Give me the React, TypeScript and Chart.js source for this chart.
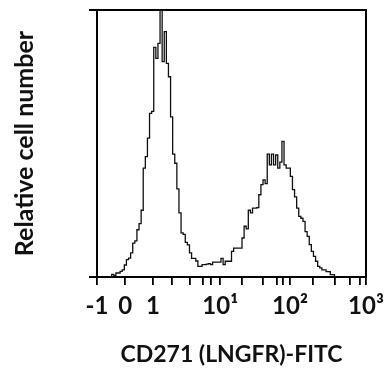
import React, { useEffect, useRef } from 'react';
import { Chart, registerables } from 'chart.js';

Chart.register(...registerables);

// Histogram: fluorescence channel bins (2 channels per bin), first bin index 6
const binWidth = 2;
const firstBin = 6;
const binCounts = [
  0, 1, 0.5, 1.5, 1.5, 2.1, 2.7, 4.5, 6.5, 7.1,
  9, 12.7, 13.5, 17.7, 20, 25, 40.8, 45.1, 52, 61.3,
  62, 86, 81.9, 87.5, 100, 80.7, 91.9, 80, 75, 60,
  46, 42.6, 33, 24, 16.5, 16, 13, 12, 9, 7,
  7, 6, 4, 4, 4.6, 4.6, 4.8, 5, 4.6, 5.6,
  5.6, 5.6, 5.6, 7, 4.6, 5.9, 5.9, 5.9, 9.6, 10.8,
  10.8, 10.8, 10.8, 14.6, 19, 18, 25, 24, 25.8, 25.8,
  26, 30.8, 34.6, 36.4, 35, 46, 42, 46, 42, 45.7,
  40.8, 43, 50.8, 42, 40.8, 40.8, 37.7, 32.7, 30, 25.8,
  22.7, 22, 20.8, 17, 15.2, 12.1, 9.6, 7.7, 5.9, 4,
  3.4, 2.7, 2.7, 2, 2, 0.9, 0.9, 0,
];

const channelMax = 256;
const countMax = 100;

const majorTickChannels = [0, 26.9, 53.2, 117.3, 183.7, 256];
const majorTickLabels = ['-1', '0', '1', '10\u00B9', '10\u00B2', '10\u00B3'];
const minorTickChannels = [71.3, 88.7, 100.8, 108.4, 137.8, 157.8, 171.1, 176.8, 205.9, 226.5, 240.8, 250.3];

const xTitle = 'CD271 (LNGFR)-FITC';
const yTitle = 'Relative cell number';

export default function App() {
  const canvasRef = useRef<HTMLCanvasElement | null>(null);

  useEffect(() => {
    const canvas = canvasRef.current;
    if (!canvas) return;
    Chart.defaults.font.family = 'Lato';

    const points = binCounts.map((c, i) => ({ x: (firstBin + i) * binWidth, y: c }));
    points.push({ x: (firstBin + binCounts.length) * binWidth, y: 0 });

    const allTicks = [...majorTickChannels, ...minorTickChannels].sort((a, b) => a - b);
    const labelFor = (v: number) => {
      const idx = majorTickChannels.findIndex((m) => Math.abs(m - v) < 0.01);
      return idx >= 0 ? majorTickLabels[idx] : '';
    };

    const chart = new Chart(canvas, {
      type: 'line',
      data: {
        datasets: [
          {
            data: points,
            stepped: 'before',
            borderColor: '#111',
            borderWidth: 1.3,
            pointRadius: 0,
            fill: false,
            tension: 0,
          },
        ],
      },
      options: {
        animation: false,
        responsive: false,
        parsing: false as any,
        layout: { padding: { top: 10, right: 22, bottom: 0, left: 0 } },
        plugins: { legend: { display: false }, tooltip: { enabled: false } },
        scales: {
          x: {
            type: 'linear',
            position: 'bottom',
            min: 0,
            max: channelMax,
            afterBuildTicks: (s: any) => {
              s.ticks = allTicks.map((v) => ({ value: v }));
            },
            afterFit: (s: any) => {
              s.height = 96;
              s.paddingLeft = 0;
              s.paddingRight = 0;
            },
            ticks: {
              autoSkip: false,
              maxRotation: 0,
              minRotation: 0,
              padding: 7,
              color: '#111',
              font: { size: 24, weight: 'bold' },
              callback: (v: any) => labelFor(Number(v)),
            },
            grid: {
              display: true,
              drawOnChartArea: false,
              drawTicks: true,
              tickLength: 8,
              color: '#000',
              lineWidth: 1.8,
            },
            border: { display: true, color: '#000', width: 2 },
            title: {
              display: true,
              text: xTitle,
              color: '#111',
              font: { size: 23, weight: 'bold' },
              padding: { top: 0, bottom: 5 },
            },
          },
          y: {
            type: 'linear',
            position: 'left',
            min: 0,
            max: countMax,
            afterBuildTicks: (s: any) => {
              s.ticks = [{ value: 0 }, { value: countMax }];
            },
            afterFit: (s: any) => {
              s.width = 97;
              s.paddingTop = 0;
              s.paddingBottom = 0;
            },
            ticks: { display: false },
            grid: {
              display: true,
              drawOnChartArea: false,
              drawTicks: true,
              tickLength: 8,
              color: '#000',
              lineWidth: 2,
            },
            border: { display: true, color: '#000', width: 2 },
            title: {
              display: true,
              text: yTitle,
              color: '#111',
              font: { size: 25, weight: 'bold' },
              padding: { top: 10, bottom: 0 },
            },
          },
          xTop: {
            type: 'linear',
            position: 'top',
            min: 0,
            max: channelMax,
            ticks: { display: false },
            afterFit: (s: any) => {
              s.height = 0;
              s.paddingLeft = 0;
              s.paddingRight = 0;
            },
            grid: { display: true, drawOnChartArea: false, drawTicks: false },
            border: { display: true, color: '#000', width: 2 },
          },
          yRight: {
            type: 'linear',
            position: 'right',
            min: 0,
            max: countMax,
            ticks: { display: false },
            afterFit: (s: any) => {
              s.width = 0;
              s.paddingTop = 0;
              s.paddingBottom = 0;
            },
            grid: { display: true, drawOnChartArea: false, drawTicks: false },
            border: { display: true, color: '#000', width: 2 },
          },
        },
      },
    });

    return () => chart.destroy();
  }, []);

  return (
    <div style={{ position: 'fixed', left: 0, top: 0, width: 388, height: 373, background: '#fff' }}>
      <canvas ref={canvasRef} width={388} height={373} style={{ display: 'block' }} />
    </div>
  );
}
